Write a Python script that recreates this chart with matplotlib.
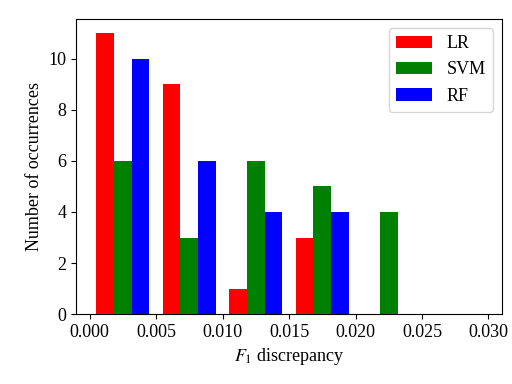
import numpy as np
from matplotlib import pyplot as plt

plt.rcParams['font.family'] = ['Liberation Serif', 'DejaVu Serif']
plt.rcParams['mathtext.fontset'] = 'stix'

bins = [0.0, 0.005, 0.01, 0.015, 0.02, 0.025, 0.03]
labels = ['LR', 'SVM', 'RF']
colors = ['red', 'green', 'blue']
lr_counts = [11, 9, 1, 3, 0, 0]
svm_counts = [6, 3, 6, 5, 4, 0]
rf_counts = [10, 6, 4, 4, 0, 0]
xtick_labels = ['0.000', '0.005', '0.010', '0.015', '0.020', '0.025', '0.030']

centers = [(bins[i] + bins[i + 1]) / 2 for i in range(len(bins) - 1)]

fig = plt.figure(figsize=(5.12, 3.84), dpi=100)
ax = fig.add_axes([0.149, 0.182, 0.831, 0.768])
ax.hist(x=[centers, centers, centers], bins=bins,
        weights=[lr_counts, svm_counts, rf_counts],
        color=colors, label=labels)
ax.set_xlim(-0.001, 0.031)
ax.set_xticks(bins)
ax.set_xticklabels(xtick_labels)
ax.set_yticks([0, 2, 4, 6, 8, 10])
ax.tick_params(labelsize=13)
ax.set_xlabel('$F_1$ discrepancy', fontsize=13)
ax.set_ylabel('Number of occurrences', fontsize=13)
ax.legend(loc='upper right', fontsize=13)

plt.savefig('out.png')
